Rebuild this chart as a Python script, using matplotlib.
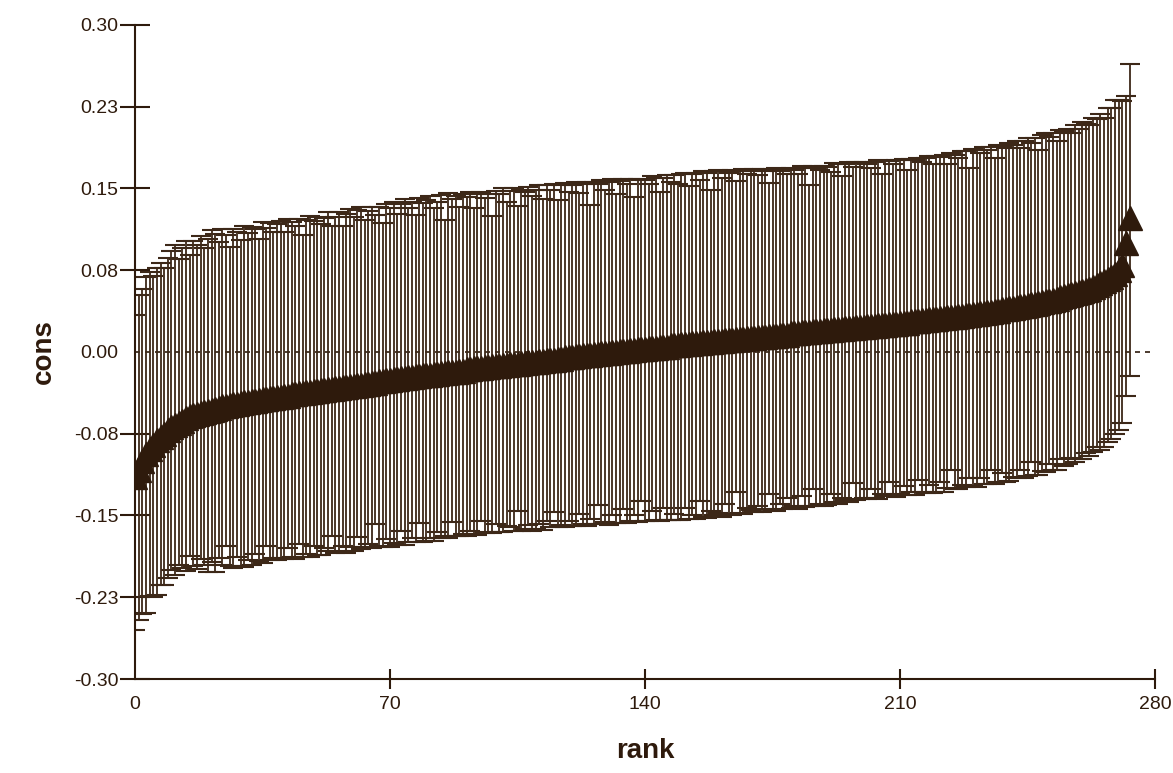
import matplotlib
matplotlib.use("Agg")
import numpy as np
import matplotlib.pyplot as plt

# ranked estimates
cons = [
    -0.115, -0.108, -0.100, -0.094, -0.089, -0.085, -0.081, -0.078, -0.075, -0.072,
    -0.069, -0.067, -0.065, -0.063, -0.061, -0.059, -0.058, -0.057, -0.056, -0.055,
    -0.054, -0.053, -0.052, -0.051, -0.050, -0.050, -0.049, -0.048, -0.048, -0.047,
    -0.046, -0.046, -0.045, -0.045, -0.044, -0.043, -0.043, -0.042, -0.042, -0.041,
    -0.041, -0.040, -0.040, -0.039, -0.039, -0.038, -0.038, -0.037, -0.037, -0.036,
    -0.036, -0.035, -0.035, -0.034, -0.034, -0.033, -0.033, -0.032, -0.032, -0.031,
    -0.031, -0.030, -0.030, -0.029, -0.029, -0.028, -0.028, -0.027, -0.027, -0.026,
    -0.026, -0.025, -0.025, -0.024, -0.024, -0.023, -0.023, -0.022, -0.022, -0.021,
    -0.021, -0.021, -0.020, -0.020, -0.019, -0.019, -0.018, -0.018, -0.018, -0.017,
    -0.017, -0.016, -0.016, -0.015, -0.015, -0.015, -0.014, -0.014, -0.013, -0.013,
    -0.013, -0.012, -0.012, -0.011, -0.011, -0.011, -0.010, -0.010, -0.009, -0.009,
    -0.009, -0.008, -0.008, -0.007, -0.007, -0.007, -0.006, -0.006, -0.005, -0.005,
    -0.005, -0.004, -0.004, -0.003, -0.003, -0.003, -0.002, -0.002, -0.001, -0.001,
    -0.001, 0.000, 0.000, 0.001, 0.001, 0.001, 0.002, 0.002, 0.003, 0.003,
    0.003, 0.004, 0.004, 0.004, 0.005, 0.005, 0.005, 0.006, 0.006, 0.006,
    0.007, 0.007, 0.007, 0.008, 0.008, 0.008, 0.009, 0.009, 0.009, 0.010,
    0.010, 0.010, 0.011, 0.011, 0.011, 0.012, 0.012, 0.012, 0.013, 0.013,
    0.013, 0.014, 0.014, 0.014, 0.015, 0.015, 0.015, 0.016, 0.016, 0.016,
    0.017, 0.017, 0.017, 0.018, 0.018, 0.018, 0.019, 0.019, 0.019, 0.020,
    0.020, 0.020, 0.021, 0.021, 0.021, 0.022, 0.022, 0.022, 0.023, 0.023,
    0.023, 0.024, 0.024, 0.024, 0.025, 0.025, 0.025, 0.026, 0.026, 0.026,
    0.027, 0.027, 0.027, 0.028, 0.028, 0.028, 0.029, 0.029, 0.030, 0.030,
    0.030, 0.031, 0.031, 0.032, 0.032, 0.032, 0.033, 0.033, 0.034, 0.034,
    0.035, 0.035, 0.036, 0.036, 0.037, 0.037, 0.038, 0.038, 0.039, 0.039,
    0.040, 0.040, 0.041, 0.042, 0.042, 0.043, 0.044, 0.044, 0.045, 0.046,
    0.047, 0.047, 0.048, 0.049, 0.050, 0.051, 0.052, 0.053, 0.054, 0.055,
    0.056, 0.057, 0.058, 0.060, 0.061, 0.063, 0.065, 0.067, 0.069, 0.072,
    0.075, 0.080, 0.100, 0.123,
]

# distance from estimate to upper limit
err_hi = [
    .149, .160, .158, .163, .162, .155, .158, .160, .152, .158,
    .162, .165, .150, .158, .163, .148, .160, .155, .162, .150,
    .158, .165, .160, .152, .163, .157, .145, .161, .158, .150,
    .162, .155, .160, .158, .148, .162, .157, .160, .152, .158,
    .161, .150, .162, .158, .155, .160, .145, .158, .162, .156,
    .160, .152, .158, .162, .150, .157, .161, .148, .159, .162,
    .155, .160, .163, .150, .158, .161, .154, .160, .145, .162,
    .158, .163, .152, .160, .164, .155, .161, .148, .163, .158,
    .160, .164, .152, .158, .163, .140, .164, .158, .161, .150,
    .162, .158, .163, .147, .160, .162, .155, .159, .138, .161,
    .158, .162, .150, .159, .161, .145, .159, .157, .160, .152,
    .158, .161, .148, .160, .156, .161, .145, .159, .160, .152,
    .158, .160, .150, .157, .159, .138, .158, .156, .159, .150,
    .157, .159, .145, .156, .158, .153, .157, .140, .156, .155,
    .155, .150, .157, .156, .142, .155, .157, .150, .156, .148,
    .156, .157, .145, .155, .156, .150, .157, .155, .140, .156,
    .157, .150, .155, .153, .156, .145, .154, .156, .150, .153,
    .155, .148, .154, .152, .140, .153, .154, .150, .152, .147,
    .152, .150, .146, .153, .151, .135, .152, .150, .148, .151,
    .150, .145, .152, .151, .140, .150, .152, .148, .151, .150,
    .151, .148, .145, .150, .151, .138, .150, .149, .146, .150,
    .149, .150, .140, .149, .148, .150, .145, .149, .150, .142,
    .150, .148, .150, .140, .151, .149, .145, .151, .150, .135,
    .151, .150, .147, .152, .148, .151, .140, .152, .150, .148,
    .152, .150, .153, .145, .152, .153, .148, .152, .140, .153,
    .154, .150, .153, .145, .154, .152, .153, .148, .154, .150,
    .155, .152, .150, .155, .153, .155, .150, .157, .155, .159,
    .156, .150, .135, .141,
]

# distance from estimate to lower limit
err_lo = [
    .140, .138, .140, .145, .135, .140, .142, .136, .139, .135,
    .131, .138, .130, .135, .140, .128, .138, .142, .134, .140,
    .148, .140, .150, .138, .145, .128, .147, .150, .140, .149,
    .151, .145, .150, .140, .148, .151, .135, .149, .147, .150,
    .148, .150, .140, .149, .151, .138, .150, .148, .151, .142,
    .150, .151, .145, .149, .135, .151, .150, .146, .152, .148,
    .152, .140, .151, .150, .147, .152, .130, .151, .152, .146,
    .153, .150, .152, .140, .153, .151, .148, .152, .135, .153,
    .152, .150, .153, .145, .152, .150, .153, .138, .151, .152,
    .150, .153, .148, .152, .153, .140, .152, .151, .153, .145,
    .152, .153, .148, .150, .153, .135, .154, .152, .150, .155,
    .153, .150, .155, .148, .154, .140, .155, .153, .156, .150,
    .155, .156, .145, .155, .157, .150, .156, .138, .157, .155,
    .158, .150, .157, .158, .145, .158, .157, .152, .159, .140,
    .158, .159, .150, .158, .160, .148, .159, .160, .155, .160,
    .161, .150, .160, .158, .161, .145, .160, .161, .155, .160,
    .158, .161, .150, .160, .161, .140, .160, .161, .156, .158,
    .160, .155, .161, .158, .145, .160, .161, .155, .160, .150,
    .160, .158, .161, .150, .160, .159, .145, .160, .158, .161,
    .160, .150, .159, .160, .155, .158, .160, .142, .159, .158,
    .157, .159, .150, .158, .160, .155, .157, .145, .158, .159,
    .157, .150, .158, .156, .159, .145, .157, .158, .152, .159,
    .158, .150, .159, .157, .140, .158, .159, .155, .158, .150,
    .158, .159, .152, .157, .158, .145, .159, .157, .150, .158,
    .158, .155, .157, .150, .158, .157, .145, .157, .158, .155,
    .157, .150, .156, .157, .148, .156, .155, .150, .155, .153,
    .154, .150, .153, .152, .148, .153, .152, .150, .149, .147,
    .147, .145, .140, .145,
]

yticks = [-0.300, -0.225, -0.150, -0.075, 0.000, 0.075, 0.150, 0.225, 0.300]
ytick_labels = ["-0.30", "-0.23", "-0.15", "-0.08", "0.00", "0.08", "0.15", "0.23", "0.30"]
xticks = [0, 70, 140, 210, 280]

brown = "#2e1a0c"
bar_col = "#3d2818"

plt.rcParams["font.family"] = ["Liberation Sans", "DejaVu Sans"]

rank = np.arange(len(cons))
cons = np.array(cons)
err = np.vstack([err_lo, err_hi])

fig = plt.figure(figsize=(11.73, 7.73), dpi=100)
ax = fig.add_axes([0.1151, 0.1216, 0.8696, 0.8461])

ax.errorbar(rank, cons, yerr=err, fmt="none", ecolor=bar_col, elinewidth=1.3,
            capsize=7, capthick=1.5, zorder=2)
ax.plot(rank, cons, linestyle="none", marker="^", markersize=17,
        color=brown, markeredgecolor=brown, zorder=3)
ax.axhline(0, color=brown, linewidth=1.2, linestyle=(0, (3, 3)), zorder=1)

ax.set_xlim(0, 280)
ax.set_ylim(-0.30, 0.30)
ax.set_xticks(xticks)
ax.set_xticklabels([str(t) for t in xticks])
ax.set_yticks(yticks)
ax.set_yticklabels(ytick_labels)

for s in ["top", "right"]:
    ax.spines[s].set_visible(False)
for s in ["left", "bottom"]:
    ax.spines[s].set_color(brown)
    ax.spines[s].set_linewidth(1.5)

ax.tick_params(axis="y", direction="inout", length=22, width=1.5, color=brown,
               labelcolor=brown, labelsize=14, pad=1)
ax.tick_params(axis="x", direction="inout", length=14, width=1.5, color=brown,
               labelcolor=brown, labelsize=14, pad=5)
# no tick mark at 0.00 on the y axis
ax.yaxis.get_major_ticks()[4].tick1line.set_visible(False)
ax.xaxis.get_major_ticks()[0].tick1line.set_visible(False)

ax.set_ylabel("cons", fontsize=20, fontweight="bold", color=brown, labelpad=12)
ax.set_xlabel("rank", fontsize=20, fontweight="bold", color=brown, labelpad=18)

fig.savefig("out.png", dpi=100, facecolor="white")
